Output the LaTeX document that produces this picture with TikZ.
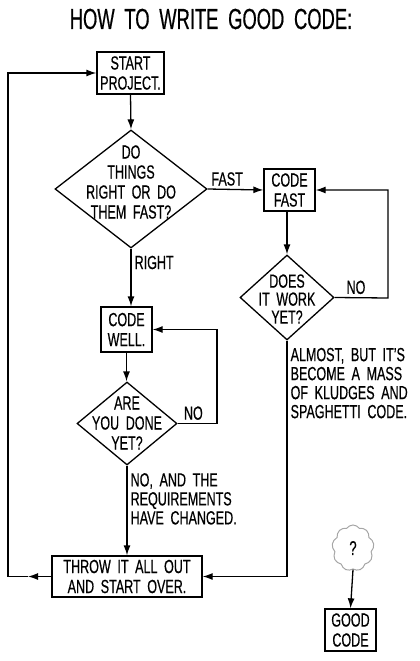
\documentclass[tikz,border=0pt]{standalone}
\usepackage{fontspec}
\setmainfont[FakeStretch=0.66, FakeBold=0.5, WordSpace=1.9]{Liberation Sans}
\usepackage{tikz}
\usetikzlibrary{calc, shapes.geometric, shapes.symbols, arrows.meta}

\tikzset{
    hop/.style={draw, rectangle, line width=1.3pt, align=center, inner sep=1pt,
        font=\fontsize{19}{20}\selectfont},
    hoi/.style={draw, diamond, line width=1.3pt, inner sep=0pt},
    chu/.style={align=center, inner sep=0pt, font=\fontsize{19}{20}\selectfont},
    nhan/.style={align=left, inner sep=3pt, font=\fontsize{19}{19}\selectfont},
}

\begin{document}
\begin{tikzpicture}[x=1pt, y=-1pt, >={Latex[length=10pt, width=7pt]}, line width=1.3pt]
    \useasboundingbox (0,0) rectangle (420,661);
    % 1. Tiêu đề
    \node[font=\fontsize{29}{31}\selectfont, xscale=0.96] (title) at (211,19) {HOW TO WRITE GOOD CODE:};

    % 2. Các hộp và câu hỏi
    \node[hop, minimum width=67, minimum height=42] (start) at (130.5,73) {START\\PROJECT.};
    \node[hoi, minimum width=152, minimum height=118] (fastq) at (131,189) {};
    \node[chu] (fastqtext) at (131,182) {DO\\THINGS\\RIGHT OR DO\\THEM FAST?};
    \node[hop, minimum width=51, minimum height=42] (fastbox) at (289.5,190) {CODE\\FAST};
    \node[hoi, minimum width=94, minimum height=85] (workq) at (287,297.5) {};
    \node[chu, font=\fontsize{19}{18}\selectfont] (workqtext) at (287,299) {DOES\\IT WORK\\YET?};
    \node[hop, minimum width=51, minimum height=45] (wellbox) at (126.5,329.5) {CODE\\WELL.};
    \node[hoi, minimum width=100, minimum height=83] (doneq) at (127,423.5) {};
    \node[chu] (doneqtext) at (127,423) {ARE\\YOU DONE\\YET?};
    \node[hop, minimum width=150, minimum height=41] (throwbox) at (127,576.5) {THROW IT ALL OUT\\AND START OVER.};
    \node[cloud, draw=gray!70, line width=1pt, cloud puffs=9, cloud puff arc=110,
        minimum width=42, minimum height=46, inner sep=0pt,
        font=\fontsize{20}{20}\selectfont] (idea) at (353,548) {?};
    \node[hop, minimum width=51, minimum height=42] (goodbox) at (350.5,630) {GOOD\\CODE};

    % 3. Các mũi tên
    \coordinate (fastloop) at (388,298);
    \coordinate (wellloop) at (217,423.5);
    \coordinate (backarrow) at (28,576.5);
    \coordinate (backcorner) at (8,576.5);

    \draw[->] (start.south) -- (fastq.north);
    \draw[->] (fastq.east) -- node[nhan, above, pos=0.35] {FAST} (fastbox.west);
    \draw[->] (fastq.south) -- node[nhan, right, pos=0.24] {RIGHT} (fastq.south |- wellbox.north);
    \draw[->] (workq.north |- fastbox.south) -- (workq.north);
    \draw[->] (workq.east) -- node[nhan, above, pos=0.4] {NO} (fastloop) |- (fastbox.east);
    \draw[->] (wellbox.south) -- (wellbox.south |- doneq.north);
    \draw[->] (doneq.east) -- node[nhan, above, pos=0.4] {NO} (wellloop) |- (wellbox.east);
    \draw[->] (doneq.south) -- node[nhan, right, pos=0.37] {NO, AND THE\\REQUIREMENTS\\HAVE CHANGED.} (doneq.south |- throwbox.north);
    \draw[->] (workq.south) |- node[nhan, right, pos=0.09] {ALMOST, BUT IT'S\\BECOME A MASS\\OF KLUDGES AND\\SPAGHETTI CODE.} (throwbox.east);
    \draw[->] (throwbox.west) -- (backarrow);
    \draw[->] (backarrow) -- (backcorner) |- (start.west);
    \draw[->] (idea.south) -- (goodbox.north);
\end{tikzpicture}
\end{document}
